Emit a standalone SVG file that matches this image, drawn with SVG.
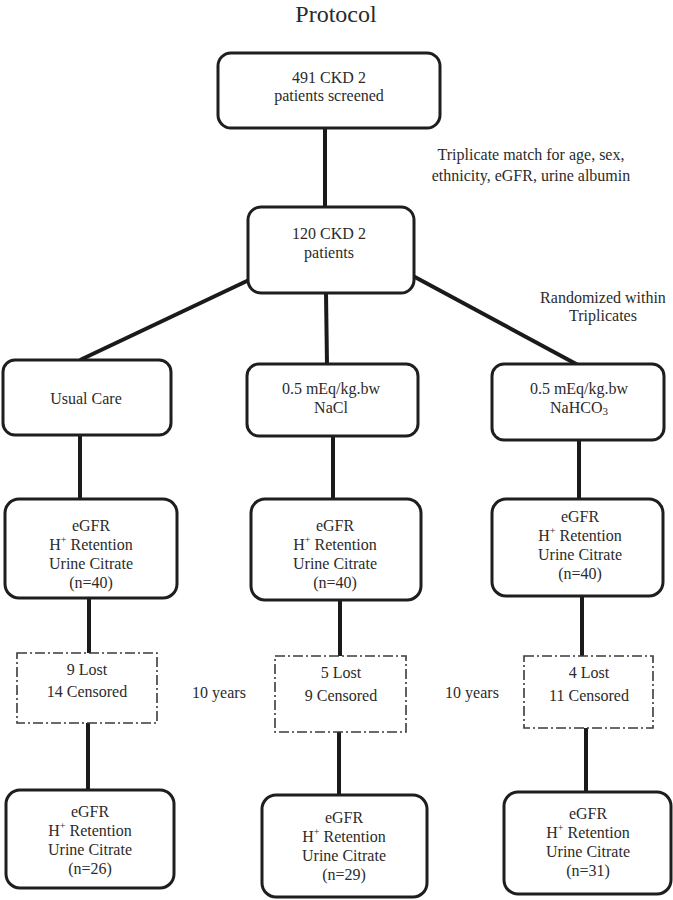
<svg xmlns="http://www.w3.org/2000/svg" width="673" height="900" viewBox="0 0 673 900" font-family="'Liberation Serif', 'DejaVu Serif', serif">
<style>
text{font-family:'Liberation Serif','DejaVu Serif',serif;font-size:16px;fill:#2b2b2b;text-anchor:middle}
.title{font-size:24px}
.box{fill:#fff;stroke:#1e1e1e;stroke-width:3}
.dbox{fill:#fff;stroke:#3a3a3a;stroke-width:1.6;stroke-dasharray:10 3 2 3}
.conn line{stroke:#1a1a1a;stroke-width:4}
.sup{font-size:10px}
</style>
<rect width="673" height="900" fill="#fff"/>
<text class="title" x="336" y="22">Protocol</text>
<g class="conn">
<line x1="325" y1="128" x2="325" y2="206"/>
<line x1="249" y1="280" x2="80" y2="360"/>
<line x1="326" y1="293" x2="327" y2="365"/>
<line x1="413" y1="276" x2="578" y2="365"/>
<line x1="80" y1="435" x2="80" y2="499"/>
<line x1="333" y1="435" x2="333" y2="499"/>
<line x1="579" y1="440" x2="579" y2="499"/>
<line x1="89" y1="598" x2="89" y2="653"/>
<line x1="340" y1="600" x2="340" y2="656"/>
<line x1="582" y1="596" x2="582" y2="656"/>
<line x1="88" y1="723" x2="88" y2="790"/>
<line x1="339" y1="732" x2="339" y2="795"/>
<line x1="586" y1="728" x2="586" y2="792"/>
</g>
<g id="screened"><rect class="box" x="218" y="53" width="222" height="75" rx="13"/>
<text x="329" y="83">491 CKD 2</text><text x="329" y="101">patients screened</text></g>
<text x="531" y="160">Triplicate match for age, sex,</text>
<text x="531" y="181">ethnicity, eGFR, urine albumin</text>
<g id="patients"><rect class="box" x="248" y="207" width="166" height="86" rx="13"/>
<text x="329" y="239">120 CKD 2</text><text x="329" y="258">patients</text></g>
<text x="603" y="303">Randomized within</text>
<text x="603" y="321">Triplicates</text>
<g id="usual"><rect class="box" x="3" y="360" width="168" height="75" rx="12"/>
<text x="86" y="404">Usual Care</text></g>
<g id="nacl"><rect class="box" x="247" y="364" width="171" height="72" rx="12"/>
<text x="331" y="394">0.5 mEq/kg.bw</text><text x="331" y="413">NaCl</text></g>
<g id="nahco3"><rect class="box" x="492" y="364" width="172" height="76" rx="12"/>
<text x="579" y="394">0.5 mEq/kg.bw</text><text x="579" y="413">NaHCO<tspan font-size="11px" dy="2">3</tspan></text></g>
<g id="b1"><rect class="box" x="5" y="499" width="172" height="99" rx="14"/>
<text x="91" y="531">eGFR</text><text x="91" y="550">H<tspan class="sup" dy="-7">+</tspan><tspan dy="7"> Retention</tspan></text><text x="91" y="569">Urine Citrate</text><text x="91" y="588">(n=40)</text></g>
<g id="b2"><rect class="box" x="251" y="499" width="170" height="101" rx="14"/>
<text x="335" y="531">eGFR</text><text x="335" y="550">H<tspan class="sup" dy="-7">+</tspan><tspan dy="7"> Retention</tspan></text><text x="335" y="569">Urine Citrate</text><text x="335" y="588">(n=40)</text></g>
<g id="b3"><rect class="box" x="492" y="499" width="171" height="97" rx="14"/>
<text x="580" y="522">eGFR</text><text x="580" y="541">H<tspan class="sup" dy="-7">+</tspan><tspan dy="7"> Retention</tspan></text><text x="580" y="560">Urine Citrate</text><text x="580" y="579">(n=40)</text></g>
<g id="d1"><rect class="dbox" x="17" y="653" width="140" height="70"/>
<text x="87" y="675">9 Lost</text><text x="87" y="697">14 Censored</text></g>
<text x="219" y="698">10 years</text>
<g id="d2"><rect class="dbox" x="275" y="656" width="131" height="76"/>
<text x="341" y="678">5 Lost</text><text x="341" y="701">9 Censored</text></g>
<text x="472" y="698">10 years</text>
<g id="d3"><rect class="dbox" x="524" y="656" width="129" height="72"/>
<text x="589" y="678">4 Lost</text><text x="589" y="701">11 Censored</text></g>
<g id="e1"><rect class="box" x="6" y="790" width="168" height="98" rx="14"/>
<text x="90" y="817">eGFR</text><text x="90" y="836">H<tspan class="sup" dy="-7">+</tspan><tspan dy="7"> Retention</tspan></text><text x="90" y="855">Urine Citrate</text><text x="90" y="874">(n=26)</text></g>
<g id="e2"><rect class="box" x="262" y="795" width="165" height="102" rx="14"/>
<text x="344" y="823">eGFR</text><text x="344" y="842">H<tspan class="sup" dy="-7">+</tspan><tspan dy="7"> Retention</tspan></text><text x="344" y="861">Urine Citrate</text><text x="344" y="880">(n=29)</text></g>
<g id="e3"><rect class="box" x="504" y="792" width="167" height="102" rx="14"/>
<text x="588" y="819">eGFR</text><text x="588" y="838">H<tspan class="sup" dy="-7">+</tspan><tspan dy="7"> Retention</tspan></text><text x="588" y="857">Urine Citrate</text><text x="588" y="876">(n=31)</text></g>
</svg>
